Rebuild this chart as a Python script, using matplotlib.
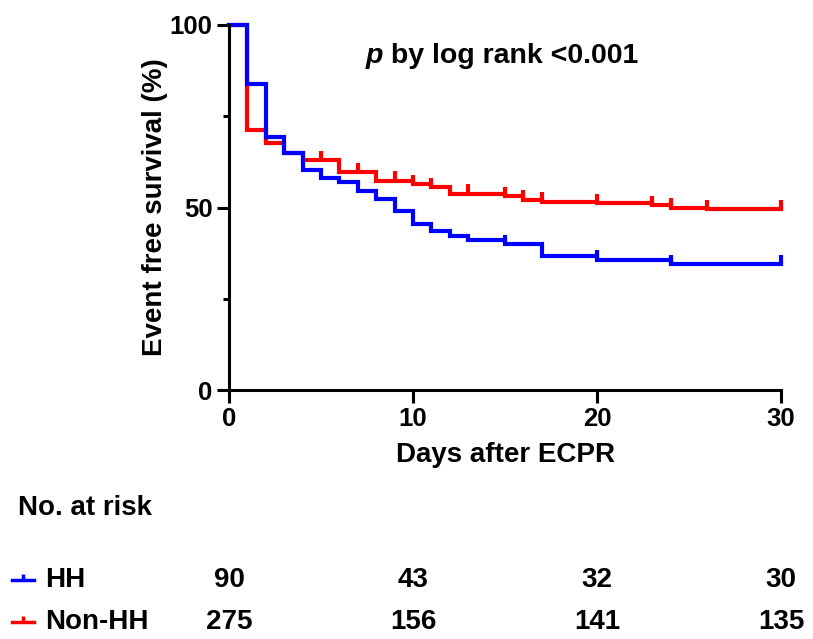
import matplotlib
matplotlib.use('Agg')
import matplotlib.pyplot as plt
import matplotlib.transforms as mtransforms
from matplotlib.lines import Line2D

plt.rcParams['font.family'] = ['Liberation Sans', 'DejaVu Sans']
plt.rcParams['font.weight'] = 'bold'

# Kaplan-Meier steps (days, % event free)
hh_days = [0, 1, 2, 3, 4, 5, 6, 7, 8, 9, 10, 11, 12, 13, 15, 17, 20, 24, 30]
hh_surv = [100, 83.8, 69.2, 64.9, 60.2, 58.0, 56.9, 54.6, 52.2, 49.0, 45.6,
           43.6, 42.3, 41.2, 40.0, 36.6, 35.7, 34.5, 34.5]
hh_censor = [15, 20, 24, 30]

non_days = [0, 1, 2, 3, 4, 6, 8, 10, 11, 12, 15, 16, 17, 20, 23, 24, 26, 30]
non_surv = [100, 71.2, 67.6, 64.9, 63.0, 59.6, 57.3, 56.4, 55.5, 53.8, 53.1,
            52.1, 51.6, 51.1, 50.6, 50.0, 49.5, 49.5]
non_censor = [5, 7, 9, 10, 11, 13, 15, 16, 17, 20, 23, 24, 26, 30]

risk_days = [0, 10, 20, 30]
hh_risk = [90, 43, 32, 30]
non_risk = [275, 156, 141, 135]

BLUE = '#0000ff'
RED = '#ff0000'

fig = plt.figure(figsize=(8.13, 6.39), dpi=100)
W, H = 813, 639
ax = fig.add_axes([229 / W, 1 - 390 / H, (781 - 229) / W, 365 / H])


def level_at(days, surv, t):
    lev = surv[0]
    for d, s in zip(days, surv):
        if d <= t:
            lev = s
    return lev


for days, surv, cens, col in [(non_days, non_surv, non_censor, RED),
                              (hh_days, hh_surv, hh_censor, BLUE)]:
    ax.plot(days, surv, drawstyle='steps-post', color=col, lw=3,
            clip_on=False, solid_joinstyle='miter')
    # censor ticks
    for c in cens:
        lev = level_at(days, surv, c)
        ax.plot([c, c], [lev, lev + 2.6], color=col, lw=3,
                solid_capstyle='butt', clip_on=False)

ax.set_xlim(0, 30)
ax.set_ylim(0, 100)
for s in ['top', 'right']:
    ax.spines[s].set_visible(False)
for s in ['left', 'bottom']:
    ax.spines[s].set_linewidth(2.2)

ax.set_xticks([0, 10, 20, 30])
ax.set_yticks([0, 50, 100])
ax.set_yticks([25, 75], minor=True)
ax.tick_params(axis='both', which='major', length=9, width=2.2,
               labelsize=18.5, pad=3)
ax.tick_params(axis='y', which='minor', length=4, width=2.2)
ax.set_xlabel('Days after ECPR', fontsize=20, fontweight='bold', labelpad=8)
ax.set_ylabel('Event free survival (%)', fontsize=20, fontweight='bold',
              labelpad=1)

# p value annotation
fig.canvas.draw()
tp = fig.text(366 / W, 1 - 56 / H, 'p', fontsize=20.5, fontweight='bold',
              fontstyle='italic', va='center', ha='left')
fig.canvas.draw()
bb = tp.get_window_extent()
fig.text(bb.x1 / W, 1 - 56 / H, ' by log rank <0.001', fontsize=20.5,
         fontweight='bold', va='center', ha='left')

# number at risk table
fig.text(18 / W, 1 - 508 / H, 'No. at risk', fontsize=20, fontweight='bold',
         va='center', ha='left')
trans = mtransforms.blended_transform_factory(ax.transData, fig.transFigure)
rows = [('HH', hh_risk, BLUE, 580), ('Non-HH', non_risk, RED, 622)]
for name, counts, col, ypix in rows:
    yf = 1 - ypix / H
    fig.add_artist(Line2D([12 / W, 34 / W], [yf, yf], color=col, lw=2.5,
                          transform=fig.transFigure))
    fig.add_artist(Line2D([23 / W, 23 / W], [yf, yf + 6 / H], color=col,
                          lw=2.5, transform=fig.transFigure,
                          solid_capstyle='butt'))
    fig.text(45 / W, yf, name, fontsize=20, fontweight='bold',
             va='center', ha='left')
    for d, n in zip(risk_days, counts):
        fig.text(d, yf, str(n), fontsize=20, fontweight='bold',
                 va='center', ha='center', transform=trans)

fig.savefig('out.png', dpi=100)
